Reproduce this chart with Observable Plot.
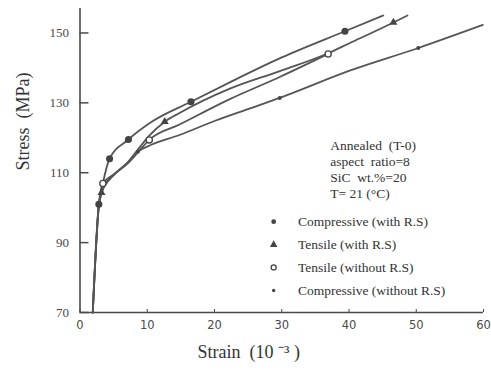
<!DOCTYPE html>
<html><head><meta charset="utf-8">
<script src="https://cdn.jsdelivr.net/npm/d3@7"></script>
<script src="https://cdn.jsdelivr.net/npm/@observablehq/plot@0.6"></script>
<style>body{margin:0;background:#fff} svg{white-space:pre}</style>
</head><body><div id="chart"></div>
<script>
// ---- data ----
const seriesNames = ["Compressive (with R.S)", "Tensile (with R.S)", "Tensile (without R.S)", "Compressive (without R.S)"];

const compWithStrain = [1.9, 2.8, 3.4, 4.4, 7.2, 10.6, 16.5, 22.2, 30, 39.4, 45.1];
const compWithStress = [70, 101, 107, 114, 119.5, 124.5, 130.3, 135.8, 143, 150.5, 155];

const tensWithStrain = [1.9, 2.8, 3.2, 4.6, 7.2, 8.2, 10.3, 12.6, 14.8, 22.2, 29.7, 36.9, 40, 46.6, 48.7];
const tensWithStress = [70, 100.5, 104.3, 108.5, 113.2, 115.6, 120.6, 124.6, 127.1, 134, 139.1, 144.2, 147, 153, 155];

const tensWithoutStrain = [1.9, 2.8, 3.4, 5, 7.2, 8.6, 10.3, 14.8, 22.2, 29.7, 36.9];
const tensWithoutStress = [70, 100.5, 106.9, 109.5, 112.9, 115.8, 119.4, 123.8, 131, 137.4, 144];

const compWithoutStrain = [1.9, 2.8, 3.7, 5, 7.2, 8.6, 10.6, 14.8, 20, 25.3, 29.7, 40.1, 50.3, 59.9];
const compWithoutStress = [70, 100.5, 106.5, 109.3, 113, 116, 118, 120.8, 124.8, 128.4, 131.4, 139.2, 145.7, 152.3];

// marker positions
const compWithMarkStrain = [2.8, 4.4, 7.2, 16.5, 39.4];
const compWithMarkStress = [101, 114, 119.5, 130.3, 150.5];
const tensWithMarkStrain = [3.2, 12.6, 46.6];
const tensWithMarkStress = [104.3, 124.6, 153];
const tensWithoutMarkStrain = [3.4, 10.3, 36.9];
const tensWithoutMarkStress = [106.9, 119.4, 144];
const compWithoutMarkStrain = [8.6, 29.7, 50.3];
const compWithoutMarkStress = [116, 131.4, 145.7];

const xTicks = [0, 10, 20, 30, 40, 50, 60];
const yTicks = [70, 90, 110, 130, 150];

const annotLines = ["Annealed  (T-0)", "aspect  ratio=8", "SiC  wt.%=20", "T= 21 (°C)"];
const annotX = 37.2;
const annotY = [117.7, 113.1, 108.6, 104.0];

const legendMarkX = 28.8;
const legendTextX = 32.4;
const legendY = [96.0, 89.4, 82.9, 76.3];

// ---- build tables ----
const toRows = (name, xs, ys) => xs.map((x, i) => ({series: name, strain: x, stress: ys[i]}));
const lineRows = [
  ...toRows(seriesNames[0], compWithStrain, compWithStress),
  ...toRows(seriesNames[1], tensWithStrain, tensWithStress),
  ...toRows(seriesNames[2], tensWithoutStrain, tensWithoutStress),
  ...toRows(seriesNames[3], compWithoutStrain, compWithoutStress)
];
const mCompWith = toRows(seriesNames[0], compWithMarkStrain, compWithMarkStress);
const mTensWith = toRows(seriesNames[1], tensWithMarkStrain, tensWithMarkStress);
const mTensWithout = toRows(seriesNames[2], tensWithoutMarkStrain, tensWithoutMarkStress);
const mCompWithout = toRows(seriesNames[3], compWithoutMarkStrain, compWithoutMarkStress);
const legendRows = seriesNames.map((s, i) => ({series: s, i, x: legendMarkX, tx: legendTextX, y: legendY[i]}));

const ink = "#4a4a4a";
const serif = "Liberation Serif";

const chart = Plot.plot({
  width: 491, height: 374,
  marginLeft: 79.5, marginRight: 8, marginTop: 8, marginBottom: 62,
  x: {domain: [0, 60]},
  y: {domain: [70, 157]},
  style: {fontFamily: serif, color: ink, background: "white"},
  marks: [
    Plot.ruleX([0], {stroke: ink, strokeWidth: 1.6}),
    Plot.ruleY([70], {stroke: ink, strokeWidth: 1.6}),
    Plot.axisY({ticks: yTicks, tickSize: 9, dx: 9, tickFormat: () => "", label: null, strokeWidth: 1.5}),
    Plot.axisY({ticks: yTicks, tickSize: 0, tickPadding: 11, label: null, fontSize: 13, fontFamily: serif}),
    Plot.axisX({ticks: xTicks, tickSize: 3, dy: -3, tickFormat: () => "", label: null}),
    Plot.axisX({ticks: xTicks, tickSize: 0, tickPadding: 8, label: null, fontSize: 11.5, fontFamily: "DejaVu Sans"}),
    Plot.line(lineRows, {x: "strain", y: "stress", z: "series", stroke: "#555", strokeWidth: 1.8, curve: "monotone-x"}),
    Plot.dot(mCompWith, {x: "strain", y: "stress", r: 2.8, fill: "#444", stroke: "#444"}),
    Plot.dot(mTensWith, {x: "strain", y: "stress", r: 3, symbol: "triangle", fill: "#444"}),
    Plot.dot(mTensWithout, {x: "strain", y: "stress", r: 3.1, fill: "white", stroke: "#444", strokeWidth: 1.3}),
    Plot.dot(mCompWithout, {x: "strain", y: "stress", r: 2, fill: "#444"}),
    // annotation
    Plot.text(annotLines, {x: annotX, y: (d, i) => annotY[i], text: d => d, textAnchor: "start", fontSize: 13.5, fill: "#333"}),
    // legend
    Plot.dot(legendRows.filter(d => d.i === 0), {x: "x", y: "y", r: 2.4, fill: "#444"}),
    Plot.dot(legendRows.filter(d => d.i === 1), {x: "x", y: "y", r: 2.8, symbol: "triangle", fill: "#444"}),
    Plot.dot(legendRows.filter(d => d.i === 2), {x: "x", y: "y", r: 2.5, fill: "white", stroke: "#444", strokeWidth: 1.3}),
    Plot.dot(legendRows.filter(d => d.i === 3), {x: "x", y: "y", r: 1.7, fill: "#444"}),
    Plot.text(legendRows, {x: "tx", y: "y", text: "series", textAnchor: "start", fontSize: 13.5, fill: "#333"}),
    // axis titles
    Plot.text(["Stress  (MPa)"], {frameAnchor: "left", rotate: -90, dx: -57, dy: 10, fontSize: 18, fill: "#333"}),
    Plot.text(["Strain  (10 ⁻³ )"], {frameAnchor: "bottom", dx: -33, dy: 45, fontSize: 18, fill: "#333"})
  ]
});
document.getElementById("chart").appendChild(chart);
</script></body></html>
